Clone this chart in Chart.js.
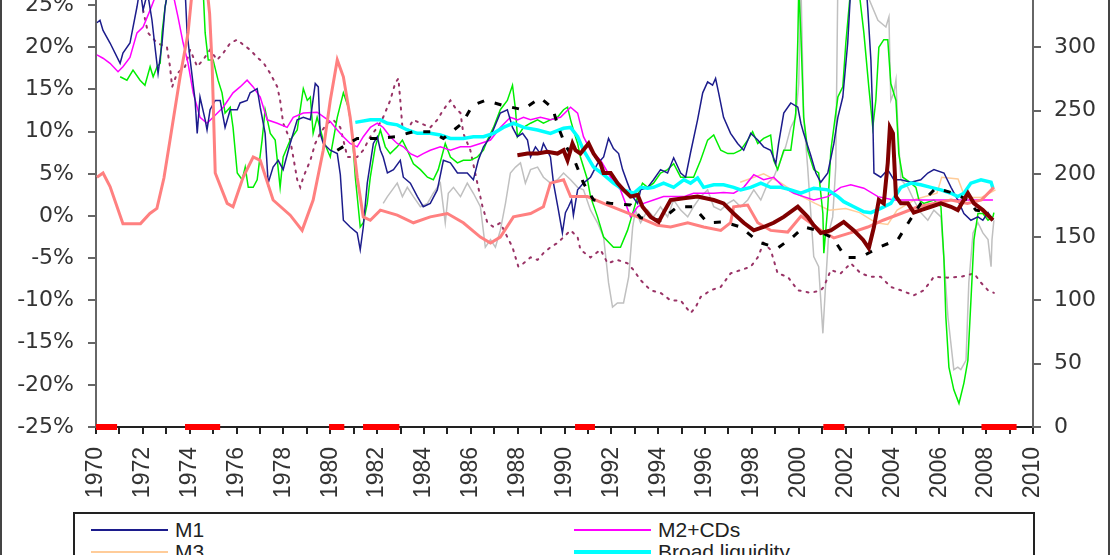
<!DOCTYPE html>
<html lang="en">
<head>
<meta charset="UTF-8">
<title>Money growth chart</title>
<script src="https://cdn.jsdelivr.net/npm/chart.js@4.4.1/dist/chart.umd.min.js"></script>
<style>
    html, body { margin: 0; padding: 0; background: #fff; overflow: hidden; }
    #wrap { position: relative; width: 1110px; height: 555px; overflow: hidden; background: #fff; }
    #frame { position: absolute; left: 0; top: 0; width: 1106px; height: 555px;
             border-left: 2px solid #444; border-right: 2px solid #444; pointer-events: none; }
    #legend { position: absolute; left: 73px; top: 512px; width: 962px; height: 120px;
              border: 2px solid #222; background: #fff; box-sizing: border-box;
              font-family: 'Liberation Sans', Arial, sans-serif; font-size: 21px; color: #222; }
    .item { position: absolute; height: 22px; line-height: 22px; white-space: nowrap; }
    .item i { position: absolute; left: 0; top: 11px; width: 77px; }
    .item span { position: absolute; left: 84px; top: 0; }
</style>
</head>
<body>
<div id="wrap">
    <canvas id="chart" width="1110" height="555"></canvas>
    <div id="legend"></div>
    <div id="frame"></div>
</div>
<script>
// year ranges
const xMin = 1970, xMax = 2010;
const leftTicks = [-25, -20, -15, -10, -5, 0, 5, 10, 15, 20, 25];
const rightTicks = [0, 50, 100, 150, 200, 250, 300];

// US recessions, drawn on the axis
const recessions = [[1970.0, 1970.9], [1973.8, 1975.3], [1979.95, 1980.6], [1981.4, 1982.95],
                    [1990.45, 1991.3], [2001.05, 2001.95], [2007.8, 2009.3]];

// series, [year, % change]
const m1 = [[1970.04,22.9],[1970.17,23.2],[1970.3,22.0],[1970.6,20.5],[1971.03,18.1],[1971.15,19.3],[1971.45,20.5],[1971.75,24.8],[1971.88,27],[1972.01,24.4],[1972.2,26.5],[1972.39,23.2],[1972.52,20.0],[1972.65,16.9],[1972.82,20.5],[1972.95,24.8],[1973.16,28],[1973.5,30],[1973.8,27],[1973.89,21.7],[1974.02,18.5],[1974.23,13.7],[1974.32,9.8],[1974.44,14.1],[1974.66,11.4],[1974.74,10.2],[1974.87,12.6],[1975.09,13.7],[1975.3,13.7],[1975.51,10.5],[1975.73,12.6],[1976.03,12.6],[1976.15,13.4],[1976.45,13.7],[1976.58,14.6],[1976.88,15.1],[1977.01,12.9],[1977.22,9.8],[1977.35,3.9],[1977.56,5.8],[1977.78,6.6],[1977.99,5.5],[1978.29,8.6],[1978.59,11.4],[1978.85,11.7],[1979.15,11.4],[1979.36,15.7],[1979.49,15.3],[1979.57,9.8],[1979.7,8.6],[1980.0,7.8],[1980.3,7.4],[1980.43,4.9],[1980.56,-0.5],[1980.85,-1.3],[1981.15,-2.0],[1981.28,-4.0],[1981.41,-1.3],[1981.58,3.9],[1981.84,8.6],[1982.01,9.4],[1982.14,7.8],[1982.26,7.0],[1982.44,5.1],[1982.7,5.5],[1982.99,6.6],[1983.12,4.6],[1983.42,3.9],[1983.72,2.3],[1983.97,1.1],[1984.27,1.5],[1984.57,3.1],[1984.83,6.6],[1985.13,6.3],[1985.43,5.1],[1985.85,5.1],[1986.11,4.3],[1986.32,6.6],[1986.54,8.2],[1986.84,9.4],[1987.14,11.4],[1987.26,12.2],[1987.56,12.6],[1987.78,10.5],[1987.99,9.4],[1988.21,9.8],[1988.42,9.0],[1988.55,7.0],[1988.76,8.2],[1988.97,7.4],[1989.1,8.6],[1989.4,7.0],[1989.53,3.9],[1989.74,0.7],[1989.91,-2.0],[1990.04,0.4],[1990.17,1.1],[1990.3,1.9],[1990.38,0.1],[1990.56,3.1],[1990.81,3.9],[1991.11,4.6],[1991.41,6.2],[1991.67,7.0],[1991.88,9.2],[1992.09,8.0],[1992.31,7.4],[1992.48,5.5],[1992.69,3.9],[1992.91,2.3],[1993.12,1.5],[1993.25,3.1],[1993.55,3.4],[1993.8,4.3],[1994.1,5.5],[1994.4,5.1],[1994.66,6.9],[1994.96,5.1],[1995.17,4.6],[1995.38,7.5],[1995.68,11.4],[1995.9,14.6],[1996.11,15.9],[1996.32,15.5],[1996.45,16.3],[1996.58,14.6],[1996.79,11.7],[1997.09,9.8],[1997.39,8.6],[1997.65,7.8],[1997.95,9.8],[1998.25,9.0],[1998.5,8.2],[1998.8,7.8],[1999.02,6.2],[1999.14,8.6],[1999.36,12.2],[1999.66,13.4],[1999.96,12.9],[2000.09,11.0],[2000.21,9.8],[2000.51,7.2],[2000.73,5.1],[2000.94,4.0],[2001.24,5.1],[2001.5,8.6],[2001.67,11.7],[2001.88,14.1],[2002.09,20.5],[2002.22,27],[2002.56,31],[2002.86,28],[2002.95,24.4],[2003.08,18.5],[2003.16,11.7],[2003.21,5.1],[2003.5,4.6],[2003.8,5.5],[2004.06,4.3],[2004.36,4.3],[2004.79,4.0],[2005.21,4.3],[2005.51,5.1],[2005.77,5.5],[2006.2,5.1],[2006.5,3.4],[2006.79,1.9],[2007.05,0.3],[2007.35,-0.5],[2007.65,-0.1],[2007.86,-0.5],[2008.08,0.4],[2008.29,-0.5]];

const m2cds = [[1970.04,19.1],[1970.3,18.7],[1970.6,18.1],[1970.94,17.1],[1971.15,17.7],[1971.45,18.8],[1971.75,21.7],[1972.01,22.4],[1972.31,24.4],[1972.6,26.5],[1973.16,28],[1973.5,23.6],[1973.72,20.5],[1973.93,18.1],[1974.15,14.6],[1974.44,11.7],[1974.74,11.0],[1975.0,11.7],[1975.43,12.9],[1975.85,14.6],[1976.15,15.3],[1976.45,16.1],[1976.71,15.3],[1977.01,14.1],[1977.31,11.4],[1977.74,11.0],[1978.16,10.5],[1978.42,11.7],[1978.85,12.2],[1979.44,12.3],[1980.0,11.2],[1980.3,10.2],[1980.56,9.4],[1980.85,8.6],[1981.15,8.2],[1981.41,9.4],[1981.71,10.5],[1982.01,11.0],[1982.26,10.5],[1982.56,9.4],[1982.86,8.6],[1983.12,8.2],[1983.42,7.4],[1983.72,7.0],[1983.97,7.4],[1984.27,7.8],[1984.7,8.2],[1985.13,7.8],[1985.56,8.2],[1985.98,8.2],[1986.41,8.6],[1986.84,9.0],[1987.26,10.5],[1987.69,11.7],[1987.99,11.4],[1988.25,11.7],[1988.55,11.4],[1988.97,11.7],[1989.4,11.4],[1989.83,11.7],[1990.26,12.9],[1990.56,12.2],[1990.81,9.4],[1991.11,7.8],[1991.54,6.6],[1991.97,4.6],[1992.39,3.1],[1992.82,-0.1],[1993.12,1.1],[1993.38,1.5],[1993.8,1.9],[1994.23,2.3],[1994.66,2.3],[1995.09,2.3],[1995.51,2.7],[1995.94,2.7],[1996.37,2.7],[1996.79,2.8],[1997.22,2.7],[1997.65,3.4],[1998.08,4.9],[1998.5,4.3],[1998.93,4.6],[1999.36,3.4],[1999.79,2.7],[2000.21,2.3],[2000.64,1.9],[2001.24,2.3],[2001.79,3.4],[2002.22,3.7],[2002.78,3.3],[2003.38,2.3],[2004.06,1.9],[2005.51,1.9],[2006.92,1.9],[2008.29,1.9]];

const m3 = [[1997.5,4.0],[1998.5,5.0],[1999.2,4.0],[2000.0,2.5],[2000.7,1.5],[2001.3,0.7],[2002.0,0.9],[2002.6,0.4],[2003.3,-0.8],[2003.8,-1.0],[2004.2,0.7],[2005.0,2.0],[2005.9,2.7],[2006.1,4.6],[2006.8,4.4],[2007.1,2.2],[2007.8,2.2],[2008.4,3.1]];

const broadLiquidity = [[1981.07,11.1],[1981.71,11.4],[1982.14,11.4],[1982.44,11.0],[1982.86,10.8],[1983.29,10.2],[1983.72,9.8],[1984.27,9.8],[1984.7,9.6],[1985.13,9.2],[1985.68,9.2],[1986.11,9.4],[1986.54,9.4],[1986.97,9.8],[1987.39,10.5],[1987.82,11.0],[1988.25,10.5],[1988.85,10.2],[1989.4,9.8],[1989.96,10.4],[1990.26,10.5],[1990.56,9.4],[1990.81,7.8],[1991.24,5.8],[1991.67,4.9],[1992.09,3.9],[1992.52,3.1],[1992.95,2.7],[1993.25,3.4],[1993.55,3.3],[1993.8,3.4],[1994.23,3.9],[1994.66,3.4],[1995.09,4.3],[1995.38,3.9],[1995.68,4.5],[1995.94,3.4],[1996.37,3.7],[1996.79,3.7],[1997.22,3.4],[1997.52,3.1],[1997.95,3.4],[1998.38,3.9],[1998.8,3.4],[1999.23,3.4],[1999.66,3.1],[2000.09,2.7],[2000.64,3.3],[2001.24,3.1],[2001.67,2.3],[2001.92,1.7],[2002.35,1.1],[2002.78,0.5],[2003.08,0.4],[2003.5,0.9],[2003.93,1.5],[2004.36,3.4],[2004.79,3.9],[2005.21,3.7],[2005.64,3.4],[2006.07,3.1],[2006.5,2.7],[2006.79,2.3],[2007.05,2.7],[2007.35,3.9],[2007.78,4.3],[2008.21,4.0],[2008.29,3.3]];

const greenSeries = [[1971.03,16.5],[1971.32,16.1],[1971.58,17.3],[1971.88,16.1],[1972.09,15.5],[1972.31,17.7],[1972.44,16.5],[1972.61,17.7],[1972.74,18.1],[1972.82,21.7],[1972.95,24.8],[1973.16,28],[1974.0,32],[1974.57,27],[1974.66,21.7],[1974.79,18.5],[1975.0,18.5],[1975.21,16.1],[1975.38,14.6],[1975.51,12.2],[1975.73,12.9],[1975.85,10.5],[1976.03,5.1],[1976.24,4.3],[1976.37,5.8],[1976.5,3.4],[1976.71,3.4],[1976.88,4.3],[1977.09,9.0],[1977.22,12.6],[1977.44,9.8],[1977.65,9.0],[1977.86,3.4],[1977.99,7.0],[1978.29,9.0],[1978.59,10.2],[1978.85,15.1],[1979.02,13.7],[1979.15,14.1],[1979.27,9.8],[1979.44,11.7],[1979.7,9.0],[1980.0,7.0],[1980.3,11.7],[1980.56,14.6],[1980.77,12.9],[1980.94,9.8],[1981.07,4.6],[1981.28,-1.3],[1981.41,-0.8],[1981.58,1.5],[1981.71,4.6],[1981.92,8.2],[1982.14,10.2],[1982.35,8.2],[1982.56,7.4],[1982.86,8.2],[1983.08,9.0],[1983.29,7.8],[1983.55,6.2],[1983.85,5.5],[1984.15,4.6],[1984.4,4.3],[1984.61,5.5],[1984.91,8.6],[1985.13,7.0],[1985.43,6.3],[1985.68,6.6],[1985.98,6.6],[1986.28,7.0],[1986.54,7.8],[1986.71,9.0],[1986.97,10.5],[1987.26,12.6],[1987.56,13.7],[1987.78,15.5],[1987.91,12.6],[1987.99,9.4],[1988.25,10.5],[1988.55,11.0],[1988.85,11.4],[1989.1,11.0],[1989.4,11.4],[1989.7,11.7],[1989.96,12.6],[1990.13,12.9],[1990.26,11.4],[1990.38,10.2],[1990.56,8.6],[1990.68,7.0],[1990.98,4.3],[1991.11,2.3],[1991.41,-0.1],[1991.67,-2.5],[1992.09,-3.7],[1992.39,-3.7],[1992.69,-1.7],[1992.95,0.7],[1993.16,2.7],[1993.33,3.9],[1993.55,3.4],[1993.8,3.9],[1994.1,5.1],[1994.4,5.5],[1994.66,6.2],[1994.96,4.6],[1995.26,4.6],[1995.51,4.6],[1995.81,6.6],[1996.11,9.0],[1996.37,9.6],[1996.67,7.8],[1996.97,7.4],[1997.22,7.4],[1997.52,7.8],[1997.82,9.0],[1998.03,10.0],[1998.25,8.6],[1998.5,9.2],[1998.8,9.6],[1998.93,6.6],[1999.1,5.5],[1999.36,7.8],[1999.66,7.8],[1999.87,12.2],[1999.96,20.9],[2000.0,27],[2000.09,21.7],[2000.21,11.7],[2000.38,7.8],[2000.64,5.5],[2000.85,5.1],[2001.03,0.3],[2001.07,-4.4],[2001.24,1.1],[2001.37,7.8],[2001.67,14.1],[2001.88,15.3],[2002.01,20.5],[2002.22,27],[2002.56,27],[2002.78,21.7],[2002.99,15.3],[2003.16,10.5],[2003.29,13.7],[2003.42,20.0],[2003.63,20.9],[2003.8,20.9],[2003.93,15.7],[2004.15,13.7],[2004.27,7.4],[2004.44,4.6],[2004.79,3.9],[2005.0,3.4],[2005.13,1.9],[2005.34,1.5],[2005.77,1.9],[2006.07,1.1],[2006.2,-5.2],[2006.28,-12.0],[2006.41,-17.9],[2006.62,-20.6],[2006.84,-22.2],[2007.05,-19.8],[2007.22,-17.1],[2007.35,-10.0],[2007.48,-2.8],[2007.65,0.3],[2007.86,0.3],[2008.08,-0.5],[2008.29,-0.1],[2008.33,0.4]];

const greySeries = [[1982.26,1.5],[1982.44,2.3],[1982.65,3.1],[1982.86,3.9],[1983.08,2.3],[1983.29,3.4],[1983.55,2.3],[1983.85,1.1],[1984.15,1.5],[1984.4,2.7],[1984.7,3.9],[1984.91,-0.8],[1985.04,2.7],[1985.26,3.4],[1985.56,2.3],[1985.85,3.9],[1986.11,2.7],[1986.41,1.1],[1986.62,-3.7],[1986.84,-2.8],[1987.05,-3.7],[1987.26,-1.7],[1987.48,1.5],[1987.69,5.1],[1987.91,5.8],[1988.12,6.3],[1988.33,3.9],[1988.55,5.5],[1988.85,5.8],[1989.1,4.6],[1989.4,3.9],[1989.7,4.3],[1989.96,5.1],[1990.26,4.3],[1990.56,3.4],[1990.81,3.1],[1991.11,0.7],[1991.41,-0.8],[1991.67,-2.5],[1991.88,-7.9],[1992.05,-10.8],[1992.26,-10.3],[1992.52,-10.3],[1992.74,-7.2],[1992.91,-1.3],[1993.03,0.7],[1993.25,-0.8],[1993.55,0.7],[1993.8,-0.1],[1994.1,1.1],[1994.4,-0.1],[1994.66,1.9],[1994.96,0.7],[1995.26,-0.1],[1995.51,1.1],[1995.81,2.3],[1996.11,3.1],[1996.37,1.1],[1996.67,0.7],[1996.97,1.5],[1997.22,1.9],[1997.52,1.1],[1997.82,1.9],[1998.08,3.1],[1998.38,1.9],[1998.68,3.9],[1998.93,4.6],[1999.23,6.6],[1999.44,8.2],[1999.66,10.5],[1999.87,11.7],[2000.0,15.7],[2000.09,28],[2000.21,11.7],[2000.38,5.8],[2000.64,-4.8],[2000.85,-6.0],[2001.03,-13.9],[2001.15,-7.9],[2001.28,-2.0],[2001.45,-0.1],[2001.58,5.8],[2001.67,28],[2002.65,28],[2003.38,23.2],[2003.72,22.4],[2003.85,23.6],[2003.93,13.7],[2004.06,14.6],[2004.15,16.1],[2004.23,10.5],[2004.36,4.3],[2004.66,3.4],[2004.91,1.9],[2005.21,0.4],[2005.51,-0.5],[2005.77,0.7],[2006.07,-0.1],[2006.2,-5.2],[2006.37,-12.0],[2006.62,-18.2],[2006.79,-17.9],[2006.92,-18.2],[2007.14,-17.1],[2007.26,-7.9],[2007.44,-2.0],[2007.65,-0.8],[2007.86,-2.0],[2008.08,-2.8],[2008.21,-6.0],[2008.25,-2.8],[2008.33,-0.5]];

const salmonSeries = [[1970.04,4.6],[1970.3,5.1],[1970.6,3.5],[1971.15,-0.9],[1971.9,-0.9],[1972.3,0.3],[1972.6,0.9],[1972.9,4.5],[1973.16,9.0],[1973.59,16.5],[1973.93,21.7],[1974.1,26.5],[1974.4,30],[1974.7,28],[1974.85,24],[1974.96,17.7],[1975.09,5.1],[1975.6,1.5],[1975.85,1.1],[1976.28,4.6],[1976.71,7.0],[1977.01,6.6],[1977.56,1.9],[1978.29,0.1],[1978.8,-1.7],[1979.27,1.9],[1979.7,7.8],[1980.0,13.7],[1980.3,18.5],[1980.56,16.5],[1980.85,11.7],[1981.15,4.6],[1981.41,-0.1],[1981.71,-0.5],[1982.14,0.7],[1982.86,0.1],[1983.55,-0.8],[1984.27,-0.1],[1985.0,0.3],[1985.68,-0.8],[1986.41,-2.5],[1986.84,-3.2],[1987.26,-2.5],[1987.82,-0.1],[1988.55,0.3],[1989.1,1.1],[1989.4,3.9],[1989.96,4.3],[1990.26,2.3],[1990.98,2.3],[1991.67,1.5],[1992.39,0.7],[1993.12,-0.1],[1993.97,-1.1],[1994.53,-1.3],[1995.26,-0.8],[1995.94,-1.3],[1996.67,-1.7],[1997.09,-0.8],[1997.22,1.1],[1997.82,1.3],[1998.25,-0.8],[1998.8,-1.7],[1999.53,-1.9],[2000.1,0.0],[2000.94,-1.7],[2001.5,-2.6],[2002.2,-2.0],[2002.95,-1.3],[2003.6,-0.5],[2004.36,0.3],[2005.09,1.1],[2005.77,1.5],[2006.5,1.9],[2007.2,1.5],[2007.8,1.9],[2008.33,3.4]];

const maroonSeries = [[1987.99,7.2],[1988.42,7.4],[1988.85,7.4],[1989.27,7.6],[1989.7,7.4],[1989.96,7.8],[1990.13,6.6],[1990.34,8.6],[1990.47,7.8],[1990.68,7.4],[1991.03,8.6],[1991.24,7.4],[1991.54,6.2],[1991.67,5.1],[1991.97,5.1],[1992.26,3.9],[1992.52,3.1],[1992.82,2.3],[1993.12,2.5],[1993.33,1.1],[1993.68,-0.1],[1994.02,-0.7],[1994.23,0.4],[1994.53,1.9],[1995.09,2.1],[1995.68,2.3],[1996.37,1.9],[1996.79,1.5],[1997.22,0.3],[1997.65,-0.8],[1998.08,-1.7],[1998.5,-1.3],[1998.93,-0.8],[1999.36,-0.1],[1999.96,1.1],[2000.38,-0.1],[2000.64,-1.1],[2000.94,-2.0],[2001.37,-1.7],[2001.92,-0.7],[2002.35,-1.7],[2002.74,-2.8],[2002.99,-3.8],[2003.21,-1.3],[2003.42,1.9],[2003.63,1.5],[2003.8,6.3],[2003.89,10.5],[2004.02,9.8],[2004.15,2.3],[2004.36,1.5],[2004.66,1.5],[2004.91,0.4],[2005.21,0.7],[2005.64,1.1],[2006.07,1.5],[2006.5,1.1],[2006.79,0.7],[2007.22,2.7],[2007.48,1.5],[2007.86,0.7],[2008.29,-0.5]];

const dashedSeries = [[1980.3,7.8],[1981.15,9.2],[1982.01,9.2],[1982.78,9.4],[1983.55,10.0],[1984.27,10.0],[1984.83,9.2],[1985.64,11.0],[1986.07,13.1],[1986.62,13.7],[1987.39,13.1],[1988.21,12.6],[1988.97,14.0],[1989.49,12.8],[1989.74,10.5],[1990.04,8.4],[1990.47,6.3],[1990.81,3.9],[1991.24,1.9],[1991.97,1.5],[1992.82,1.3],[1993.25,-0.2],[1994.1,-0.5],[1994.83,1.1],[1995.51,1.1],[1996.11,-0.8],[1996.79,-0.7],[1997.52,-1.3],[1998.29,-3.1],[1999.1,-3.8],[1999.74,-2.5],[2000.21,-1.3],[2000.81,-1.7],[2001.45,-2.6],[2002.01,-4.9],[2002.65,-4.9],[2003.42,-3.7],[2004.23,-2.8],[2004.7,-0.7],[2005.21,1.5],[2005.85,3.3],[2006.62,2.7],[2007.22,1.9],[2007.56,0.7],[2008.12,0.5]];

const dottedSeries = [[1972.01,24.4],[1972.22,21.7],[1972.61,20.5],[1973.03,20.0],[1973.16,17.7],[1973.25,15.3],[1973.46,16.9],[1973.8,17.7],[1974.02,19.7],[1974.32,17.7],[1974.57,18.5],[1974.87,19.7],[1975.17,18.5],[1975.43,19.3],[1975.73,20.5],[1976.03,20.9],[1976.28,20.3],[1976.58,19.7],[1976.88,18.8],[1977.14,18.2],[1977.44,16.9],[1977.74,15.3],[1977.86,13.7],[1977.99,11.0],[1978.29,9.0],[1978.42,7.0],[1978.59,4.3],[1978.72,3.4],[1978.85,4.6],[1979.15,6.6],[1979.36,8.6],[1979.57,9.8],[1979.87,11.0],[1980.13,11.4],[1980.43,10.5],[1980.73,7.0],[1981.15,7.0],[1981.41,7.8],[1981.71,9.4],[1982.01,10.5],[1982.26,11.7],[1982.56,13.7],[1982.78,15.8],[1982.91,16.3],[1982.99,13.7],[1983.08,10.5],[1983.29,10.2],[1983.55,11.4],[1983.85,11.0],[1984.27,10.5],[1984.57,11.4],[1984.83,12.6],[1985.13,13.7],[1985.34,12.8],[1985.56,12.2],[1985.68,9.8],[1985.98,7.8],[1986.28,3.9],[1986.5,1.1],[1986.71,-0.8],[1986.97,-1.3],[1987.26,-0.8],[1987.56,-2.5],[1987.78,-3.7],[1987.91,-4.9],[1988.03,-6.0],[1988.25,-5.6],[1988.55,-4.9],[1988.85,-5.2],[1989.1,-4.4],[1989.4,-3.7],[1989.7,-3.2],[1989.96,-2.5],[1990.26,-1.7],[1990.56,-2.5],[1990.68,-4.0],[1991.11,-4.9],[1991.54,-4.0],[1991.84,-5.6],[1992.26,-5.2],[1992.69,-5.6],[1992.95,-6.4],[1993.25,-7.6],[1993.68,-8.8],[1994.1,-9.1],[1994.53,-10.0],[1994.96,-10.0],[1995.38,-11.5],[1995.6,-10.8],[1995.81,-9.6],[1996.24,-8.8],[1996.67,-8.4],[1997.09,-6.8],[1997.52,-6.4],[1997.95,-6.0],[1998.25,-4.9],[1998.5,-3.2],[1998.8,-4.0],[1999.1,-6.8],[1999.53,-7.2],[1999.96,-8.8],[2000.51,-9.1],[2000.94,-8.8],[2001.07,-8.4],[2001.37,-6.4],[2001.79,-6.8],[2002.22,-5.6],[2002.65,-6.8],[2003.08,-7.2],[2003.5,-7.2],[2003.93,-8.4],[2004.36,-8.8],[2004.91,-9.4],[2005.34,-8.8],[2005.77,-7.2],[2006.37,-7.3],[2006.92,-7.2],[2007.48,-6.8],[2007.78,-7.9],[2008.08,-8.8],[2008.33,-9.1]];

const toPts = arr => arr.map(p => ({ x: p[0], y: p[1] }));

// recession segments on the right axis at 0, separated by gaps
const recessionPts = [];
recessions.forEach(r => {
    recessionPts.push({ x: r[0], y: 0 }, { x: r[1], y: 0 }, { x: r[1], y: null });
});

function line(label, data, color, width, order, extra) {
    return Object.assign({
        label: label,
        data: toPts(data),
        borderColor: color,
        borderWidth: width,
        pointRadius: 0,
        tension: 0,
        fill: false,
        order: order,
        yAxisID: 'y'
    }, extra || {});
}

const datasets = [
    {
        label: 'Recession', data: recessionPts, borderColor: '#ff0000', borderWidth: 6,
        borderCapStyle: 'butt', pointRadius: 0, spanGaps: false, order: 0, yAxisID: 'y2', clip: false
    },
    line('Series 9', maroonSeries, '#800000', 4, 1),
    line('Series 10', dashedSeries, '#000000', 3, 2, { borderDash: [7, 11] }),
    line('Series 7', salmonSeries, '#ff8080', 3, 3),
    line('Broad liquidity', broadLiquidity, '#00ffff', 3.5, 4),
    line('M1', m1, '#1c1c8c', 1.5, 5),
    line('M2+CDs', m2cds, '#ff00ff', 1.5, 6),
    line('Series 5', greenSeries, '#00ee00', 1.5, 7),
    line('M3', m3, '#ffcc99', 1.5, 8),
    line('Series 8', dottedSeries, '#993366', 2, 9, { borderDash: [2, 6], borderCapStyle: 'round' }),
    line('Series 6', greySeries, '#c0c0c0', 1.5, 10)
];

const tickFont = { family: "'DejaVu Sans', sans-serif", size: 22 };

new Chart(document.getElementById('chart'), {
    type: 'line',
    data: { datasets: datasets },
    options: {
        responsive: false,
        maintainAspectRatio: false,
        animation: false,
        devicePixelRatio: 1,
        layout: { padding: 0 },
        plugins: { legend: { display: false }, tooltip: { enabled: false } },
        scales: {
            x: {
                type: 'linear', min: xMin, max: xMax,
                border: { display: true, color: '#222', width: 2 },
                grid: { display: true, drawOnChartArea: false, drawTicks: true, tickLength: 7, color: '#222', lineWidth: 2 },
                ticks: {
                    stepSize: 1, autoSkip: false, minRotation: 90, maxRotation: 90, padding: 13,
                    color: '#333', font: { family: "'Liberation Sans', Arial, sans-serif", size: 23 },
                    callback: v => (v % 2 === 0 ? String(v) : '')
                },
                afterFit: s => { s.height = 128; s.paddingLeft = 0; s.paddingRight = 0; }
            },
            y: {
                position: 'left', min: -25, max: 25.6,
                border: { display: true, color: '#666', width: 2 },
                grid: { display: true, drawOnChartArea: false, drawTicks: true, tickLength: 8, color: '#666', lineWidth: 2 },
                ticks: { color: '#333', font: tickFont, padding: 14, callback: v => v + '%' },
                afterBuildTicks: s => { s.ticks = leftTicks.map(v => ({ value: v })); },
                afterFit: s => { s.width = 96; s.paddingTop = 0; s.paddingBottom = 0; }
            },
            y2: {
                position: 'right', min: 0, max: 337.3,
                border: { display: true, color: '#666', width: 2 },
                grid: { display: true, drawOnChartArea: false, drawTicks: true, tickLength: 8, color: '#666', lineWidth: 2 },
                ticks: { color: '#333', font: tickFont, padding: 13 },
                afterBuildTicks: s => { s.ticks = rightTicks.map(v => ({ value: v })); },
                afterFit: s => { s.width = 77; s.paddingTop = 0; s.paddingBottom = 0; }
            }
        }
    }
});

// legend box (only the top rows fall inside the picture)
const legendItems = [
    { label: 'M1', color: '#1c1c8c', width: 2, left: 16, top: 5 },
    { label: 'M2+CDs', color: '#ff00ff', width: 2, left: 499, top: 5 },
    { label: 'M3', color: '#ffcc99', width: 2, left: 16, top: 27 },
    { label: 'Broad liquidity', color: '#00ffff', width: 4, left: 499, top: 27 }
];
const legend = document.getElementById('legend');
legendItems.forEach(it => {
    const d = document.createElement('div');
    d.className = 'item';
    d.style.left = it.left + 'px';
    d.style.top = it.top + 'px';
    d.innerHTML = '<i style="border-top:' + it.width + 'px solid ' + it.color + ';margin-top:-' + (it.width / 2) + 'px"></i><span>' + it.label + '</span>';
    legend.appendChild(d);
});
</script>
</body>
</html>
